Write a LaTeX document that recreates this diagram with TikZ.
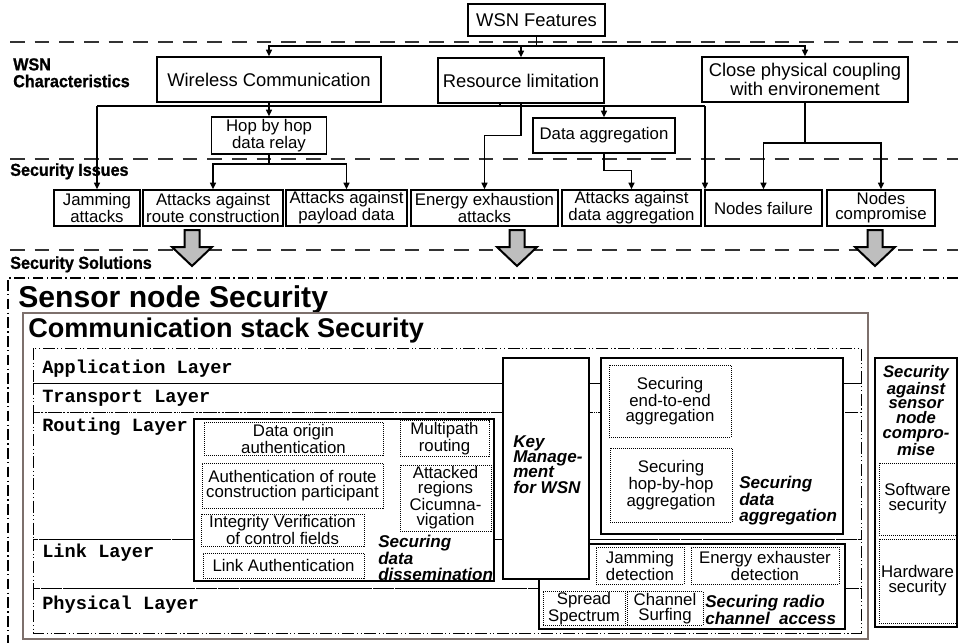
\documentclass[tikz,border=0pt]{standalone}
\usepackage{fontspec}
\setmainfont{Liberation Sans}
\setmonofont{Liberation Mono}
\newfontfamily\sectfont[FakeStretch=0.93,FakeBold=1]{Liberation Sans}
\usetikzlibrary{arrows.meta}
\newdimen\px
\px=0.75pt
\definecolor{arrgray}{RGB}{190,190,190}
\definecolor{framegray}{RGB}{125,112,108}
\tikzset{
  box/.style={draw,line width=1pt,fill=white,align=center,inner sep=1pt,font=\fontsize{12.6}{11.3}\selectfont},
  bigbox/.style={box,font=\fontsize{13.8}{11}\selectfont},
  dbox/.style={box,line width=0.7pt,dash pattern=on 0.75pt off 0.75pt},
  gbox/.style={draw,line width=1.2pt,fill=white},
  wh/.style 2 args={minimum width=#1\px,minimum height=#2\px},
  lbl/.style={font=\fontsize{12.8}{11.5}\selectfont\bfseries\itshape,align=left,inner sep=0pt,anchor=north west},
  sect/.style={font=\fontsize{13}{12.6}\selectfont\sectfont\bfseries,align=left,inner sep=0pt,anchor=north west},
  lyr/.style={draw,line width=0.7pt,dash pattern=on 9pt off 2pt on 0.8pt off 2pt on 0.8pt off 2pt},
  lname/.style={font=\fontsize{14}{14}\selectfont\ttfamily\bfseries,anchor=west,inner sep=0pt},
  arr/.style={line width=1pt,-{Triangle[length=5pt,width=4.5pt]}},
  con/.style={line width=1pt},
  divider/.style={line width=1.4pt,dash pattern=on 11pt off 7.5pt,black!80},
}

\begin{document}
\begin{tikzpicture}[x=0.75pt,y=-0.75pt]
  \useasboundingbox (0,0) rectangle (958,643);

  % dividers and section names
  \draw[divider] (10,42) -- (958,42);
  \draw[divider] (10,159) -- (958,159);
  \draw[divider] (10,250) -- (958,250);
  \node[sect] (chr) at (13,58) {WSN\\Characteristics};
  \node[sect] (iss) at (10,163) {Security Issues};
  \node[sect] (sol) at (10,256) {Security Solutions};

  % WSN characteristics
  \node[bigbox,wh={137}{32}] (feat) at (536.5,20) {WSN Features};
  \node[bigbox,wh={224}{45}] (wire) at (269,79.5) {Wireless Communication};
  \node[bigbox,wh={166}{45}] (res) at (521,80.5) {Resource limitation};
  \node[bigbox,wh={206}{45}] (close) at (805,79.5) {Close physical coupling\\with environement};
  \node[box,wh={115}{37}] (hop) at (269,135.5) {Hop by hop\\data relay};
  \node[box,wh={142}{35}] (agg) at (604,135.5) {Data aggregation};

  % security issues
  \node[box,wh={86}{36}] (jam) at (97,208) {Jamming\\attacks};
  \node[box,wh={140}{36}] (route) at (213,208) {Attacks against\\route construction};
  \node[box,wh={121}{36}] (pay) at (346.5,208) {Attacks against\\payload data};
  \node[box,wh={147}{36}] (energy) at (484.5,208) {Energy exhaustion\\attacks};
  \node[box,wh={139}{36}] (attagg) at (631.5,208) {Attacks against\\data aggregation};
  \node[box,wh={117}{36}] (fail) at (763.5,208) {Nodes failure};
  \node[box,wh={108}{36}] (comp) at (881,208) {Nodes\\compromise};

  \coordinate (f1) at (536.5,46);
  \draw[con] (feat) -- (f1);
  \draw[arr] (f1) -| (wire);
  \draw[arr] (f1) -| (res);
  \draw[arr] (f1) -| (close);

  \coordinate (w1) at (97,106);
  \coordinate (w2) at (705,106);
  \coordinate (w3) at (500,106);
  \draw[con] (w1) -- (w2);
  \draw[con] (w3) -- (w3 |- res.south);
  \draw[arr] (wire) -- (hop);
  \draw[arr] (w1) -- (jam);
  \draw[arr] (w2) -- (w2 |- fail.north);
  \draw[arr] (agg.north |- w2) -- (agg);
  \draw[arr] (res.south) -- ++(0,32) -| (energy);
  \draw[arr] (agg.south) -- ++(0,17) -| (attagg);

  \coordinate (h1) at (269,164);
  \draw[con] (hop) -- (h1);
  \draw[arr] (h1) -| (route);
  \draw[arr] (h1) -| (pay);

  \coordinate (c1) at (805,143);
  \draw[con] (close) -- (c1);
  \draw[arr] (c1) -| (fail);
  \draw[arr] (c1) -| (comp);

  % big arrows
  \foreach \ax in {192,517,875}
    \draw[line width=1.5pt,fill=arrgray] (\ax-7.5,230) -- (\ax+7.5,230) -- (\ax+7.5,247) -- (\ax+20,247)
      -- (\ax,266) -- (\ax-20,247) -- (\ax-7.5,247) -- cycle;

  % security solutions
  \draw[line width=0.8pt,dash pattern=on 8pt off 2.5pt on 1pt off 2.5pt] (958,278) -- (8,278) -- (8,643);
  \node[anchor=base west,inner sep=0pt,font=\fontsize{22.6}{24}\selectfont\bfseries] (sns) at (18,307) {Sensor node Security};
  \draw[framegray,line width=1.3pt] (23,313) rectangle (868,639);
  \node[anchor=base west,inner sep=0pt,font=\fontsize{20.3}{22}\selectfont\bfseries] (css) at (28,337) {Communication stack Security};

  \foreach \ya/\yb/\yt/\lay in {348/383/369/Application,383/412/398/Transport,412/539/427/Routing,539/588/553/Link,588/633/605/Physical}{
    \draw[lyr] (33,\ya) rectangle (861,\yb);
    \node[lname] (\lay) at (42,\yt) {\lay\ Layer};
  }

  % data dissemination
  \node[gbox,wh={300}{162}] (diss) at (344,500) {};
  \node[dbox,wh={179}{33}] (dorig) at (293.5,438.5) {Data origin\\authentication};
  \node[dbox,wh={89}{33}] (multi) at (444.5,438.5) {Multipath\\routing};
  \node[dbox,wh={181}{45}] (authr) at (292.5,485.5) {Authentication of route\\construction participant};
  \node[dbox,wh={91}{66}] (attreg) at (445.5,498) {Attacked\\regions\\Cicumna-\\vigation};
  \node[dbox,wh={163}{32}] (integ) at (282.5,530) {Integrity Verification\\of control fields};
  \node[dbox,wh={161}{25}] (linka) at (283.5,565.5) {Link Authentication};
  \node[lbl] (disslbl) at (378,535) {Securing\\data\\dissemination};

  % data aggregation
  \node[gbox,wh={242}{176}] (aggbox) at (722,446) {};
  \node[dbox,wh={122}{72}] (e2e) at (670,401) {Securing\\end-to-end\\aggregation};
  \node[dbox,wh={122}{74}] (hbh) at (671,485) {Securing\\hop-by-hop\\aggregation};
  \node[lbl] (agglbl) at (739,476) {Securing\\data\\aggregation};

  % radio channel access
  \node[gbox,wh={306}{85}] (radio) at (692,586.5) {};
  \node[dbox,wh={88}{37}] (jdet) at (640,565.5) {Jamming\\detection};
  \node[dbox,wh={148}{37}] (edet) at (765,565.5) {Energy exhauster\\detection};
  \node[dbox,wh={82}{33}] (spread) at (584,608.5) {Spread\\Spectrum};
  \node[dbox,wh={76}{33}] (chan) at (665,608.5) {Channel\\Surfing};
  \node[lbl] (radlbl) at (705,595) {Securing radio\\channel\ \ access};

  % key management
  \node[gbox,wh={86}{221}] (key) at (546,468.5) {};
  \node[lbl] (keylbl) at (513,435) {Key\\Manage-\\ment\\for WSN};

  % node compromise
  \node[gbox,wh={82}{269}] (secn) at (916,492.5) {};
  \node[lbl,align=center,anchor=north,font=\fontsize{12.5}{11}\selectfont\bfseries\itshape] (secnlbl) at (916,365) {Security\\against\\sensor\\node\\compro-\\mise};
  \node[dbox,wh={77}{72}] (soft) at (917.5,499) {Software\\security};
  \node[dbox,wh={77}{84}] (hard) at (917.5,581) {Hardware\\security};
\end{tikzpicture}
\end{document}
